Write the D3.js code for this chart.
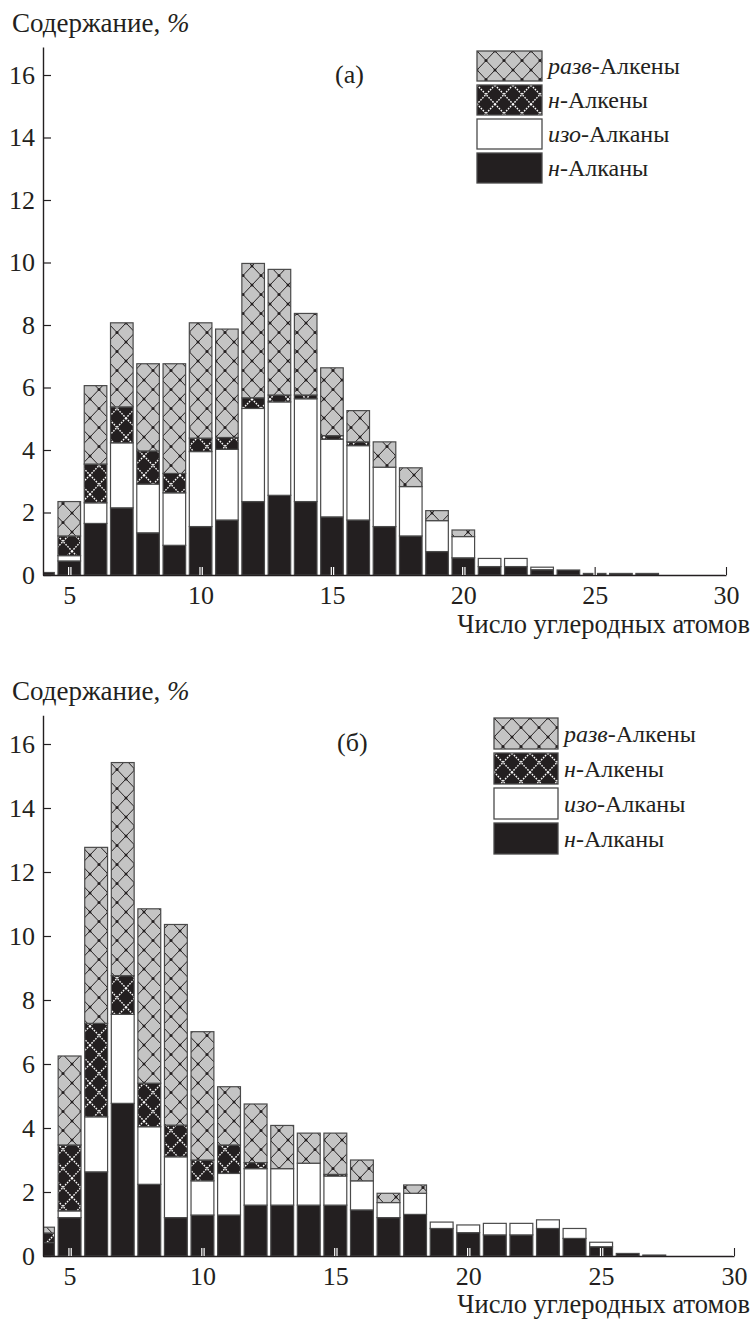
<!DOCTYPE html>
<html>
<head>
<meta charset="utf-8">
<script src="https://cdn.jsdelivr.net/npm/d3@7"></script>
<style>
  body { margin: 0; background: #fff; }
  svg { display: block; font-family: "Liberation Serif", "DejaVu Serif", serif; }
</style>
</head>
<body>
<svg id="chart" width="751" height="1319"></svg>
<script>
// carbon numbers (x categories)
const carbons = [4, 5, 6, 7, 8, 9, 10, 11, 12, 13, 14, 15, 16, 17, 18, 19, 20, 21, 22, 23, 24, 25, 26, 27];

// (a)
const nAlkanesA   = [0.08, 0.45, 1.65, 2.15, 1.35, 0.95, 1.55, 1.76, 2.35, 2.55, 2.35, 1.86, 1.76, 1.55, 1.25, 0.75, 0.55, 0.27, 0.27, 0.17, 0.16, 0.05, 0.05, 0.05];
const isoAlkanesA = [0, 0.17, 0.66, 2.08, 1.56, 1.68, 2.40, 2.26, 2.98, 2.99, 3.29, 2.48, 2.38, 1.90, 1.58, 0.99, 0.68, 0.26, 0.26, 0.08, 0, 0, 0, 0];
const nAlkenesA   = [0, 0.63, 1.24, 1.15, 1.06, 0.62, 0.43, 0.38, 0.34, 0.22, 0.12, 0.12, 0.12, 0, 0, 0, 0, 0, 0, 0, 0, 0, 0, 0];
const brAlkenesA  = [0, 1.10, 2.51, 2.69, 2.79, 3.51, 3.69, 3.47, 4.30, 4.02, 2.61, 2.17, 1.00, 0.81, 0.60, 0.32, 0.21, 0, 0, 0, 0, 0, 0, 0];

// (б)
const nAlkanesB   = [0.42, 1.20, 2.63, 4.77, 2.24, 1.20, 1.28, 1.28, 1.59, 1.59, 1.59, 1.59, 1.44, 1.20, 1.30, 0.86, 0.73, 0.66, 0.66, 0.86, 0.55, 0.29, 0.08, 0.03];
const isoAlkanesB = [0, 0.21, 1.72, 2.78, 1.80, 1.90, 1.07, 1.30, 1.14, 1.14, 1.31, 0.91, 0.91, 0.47, 0.66, 0.20, 0.24, 0.36, 0.36, 0.27, 0.31, 0.14, 0, 0];
const nAlkenesB   = [0.30, 2.06, 2.92, 1.21, 1.36, 0.99, 0.65, 0.89, 0.19, 0, 0, 0.05, 0, 0, 0, 0, 0, 0, 0, 0, 0, 0, 0, 0];
const brAlkenesB  = [0.18, 2.78, 5.50, 6.66, 5.45, 6.27, 4.01, 1.82, 1.83, 1.35, 0.94, 1.29, 0.65, 0.29, 0.26, 0, 0, 0, 0, 0, 0, 0, 0, 0];

const yTicks = [0, 2, 4, 6, 8, 10, 12, 14, 16];
const xTicks = [5, 10, 15, 20, 25, 30];
const yTitle = "Содержание, ";
const xTitle = "Число углеродных атомов";

const keys = ["nAlk", "iso", "nAlkene", "brAlkene"];
// legend order top to bottom, [italic prefix, rest]
const legendItems = [
    { key: "brAlkene", pre: "разв", post: "-Алкены" },
    { key: "nAlkene", pre: "н", post: "-Алкены" },
    { key: "iso", pre: "изо", post: "-Алканы" },
    { key: "nAlk", pre: "н", post: "-Алканы" }
];

const ink = "#231f20";
const svg = d3.select("#chart");
const defs = svg.append("defs");

// gray cross hatch
const pg = defs.append("pattern").attr("id", "hatchGray")
    .attr("patternUnits", "userSpaceOnUse").attr("width", 18).attr("height", 19);
pg.append("rect").attr("width", 18).attr("height", 19).attr("fill", "#c4c4c4");
pg.append("path").attr("d", "M0,0L18,19M18,0L0,19").attr("stroke", ink).attr("stroke-width", 1);
[[0, 0], [18, 0], [0, 19], [18, 19], [9, 9.5]].forEach(p => {
    pg.append("circle").attr("cx", p[0]).attr("cy", p[1]).attr("r", 1.5).attr("fill", ink);
});

// black cross hatch with white dotted lines
const pb = defs.append("pattern").attr("id", "hatchBlack")
    .attr("patternUnits", "userSpaceOnUse").attr("width", 18).attr("height", 19);
pb.append("rect").attr("width", 18).attr("height", 19).attr("fill", ink);
pb.append("path").attr("d", "M0,0L18,19M18,0L0,19").attr("stroke", "#fff")
    .attr("stroke-width", 1.4).attr("stroke-dasharray", "1.6,1.2");

const fills = {
    nAlk: ink,
    iso: "#fff",
    nAlkene: "url(#hatchBlack)",
    brAlkene: "url(#hatchGray)"
};

function drawPanel(o) {
    const table = carbons.map((c, i) => ({
        c: c, nAlk: o.nAlk[i], iso: o.iso[i], nAlkene: o.nAlkene[i], brAlkene: o.brAlkene[i]
    }));

    const x = d3.scaleLinear().domain([4, 30]).range([o.left, o.right]);
    const y = d3.scaleLinear().domain([0, 16]).range([o.y0, o.y16]);
    const yTop = y(16.9);
    const bw = (x(5) - x(4)) * 0.86;

    const g = svg.append("g");

    g.append("clipPath").attr("id", "clip" + o.id)
        .append("rect").attr("x", o.left).attr("y", yTop)
        .attr("width", o.right - o.left).attr("height", o.y0 - yTop);

    const series = d3.stack().keys(keys)(table);

    g.append("g").attr("clip-path", "url(#clip" + o.id + ")")
        .selectAll("g")
        .data(series)
        .join("g")
        .attr("fill", d => fills[d.key])
        .selectAll("rect")
        .data(d => d.filter(s => s[1] - s[0] > 0))
        .join("rect")
        .attr("x", d => x(d.data.c) - bw / 2)
        .attr("width", bw)
        .attr("y", d => y(d[1]))
        .attr("height", d => y(d[0]) - y(d[1]))
        .attr("stroke", "#4a4a4a")
        .attr("stroke-width", 1.2);

    // y axis
    const yAxis = d3.axisLeft(d3.scaleLinear().domain([0, 16.9]).range([o.y0, yTop]))
        .tickValues(yTicks).tickSize(-8).tickSizeOuter(0).tickPadding(8);
    const ya = g.append("g").attr("transform", "translate(" + o.left + ",0)").call(yAxis);
    ya.select(".domain").attr("stroke", ink).attr("stroke-width", 1.4);
    ya.selectAll(".tick line").attr("stroke", ink).attr("stroke-width", 1.2);
    ya.selectAll(".tick text").attr("font-size", 26).attr("fill", ink)
        .attr("font-family", "Liberation Serif");

    // x axis
    const xAxis = d3.axisBottom(x).tickValues(xTicks).tickSize(-8).tickSizeOuter(0).tickPadding(11);
    const xa = g.append("g").attr("transform", "translate(0," + o.y0 + ")").call(xAxis);
    xa.select(".domain").attr("stroke", ink).attr("stroke-width", 1.4);
    xa.selectAll(".tick").insert("line", "line").attr("y2", -8)
        .attr("stroke", "#fff").attr("stroke-width", 3.5);
    xa.selectAll(".tick line:last-of-type").attr("stroke", ink).attr("stroke-width", 1.1);
    xa.selectAll(".tick text").attr("font-size", 26).attr("fill", ink)
        .attr("font-family", "Liberation Serif");

    // titles
    const yt = g.append("text").attr("x", 12).attr("y", o.yTitleY)
        .attr("font-size", 27).attr("fill", ink).text(yTitle);
    yt.append("tspan").attr("font-style", "italic").text("%");

    g.append("text").attr("x", 750).attr("y", o.xTitleY).attr("text-anchor", "end")
        .attr("font-size", 26.5).attr("fill", ink).text(xTitle);

    g.append("text").attr("x", o.tagX).attr("y", o.tagY)
        .attr("font-size", 26).attr("fill", ink).text(o.tag);

    // legend
    const lg = g.append("g").attr("transform", "translate(" + o.legX + "," + o.legY + ")");
    const rows = lg.selectAll("g").data(legendItems).join("g")
        .attr("transform", (d, i) => "translate(0," + i * o.legStep + ")");
    rows.append("rect").attr("width", o.legW).attr("height", o.legH)
        .attr("fill", d => fills[d.key]).attr("stroke", "#4a4a4a").attr("stroke-width", 1.3);
    const lt = rows.append("text").attr("x", o.legW + 6).attr("y", o.legH / 2 + 8)
        .attr("font-size", 24).attr("fill", ink);
    lt.append("tspan").attr("font-style", "italic").text(d => d.pre);
    lt.append("tspan").text(d => d.post);
}

drawPanel({
    id: "a", tag: "(a)",
    nAlk: nAlkanesA, iso: isoAlkanesA, nAlkene: nAlkenesA, brAlkene: brAlkenesA,
    left: 43, right: 726, y0: 575, y16: 75,
    yTitleY: 32, xTitleY: 633, tagX: 335, tagY: 83,
    legX: 477, legY: 51, legStep: 34, legW: 65, legH: 30
});

drawPanel({
    id: "b", tag: "(б)",
    nAlk: nAlkanesB, iso: isoAlkanesB, nAlkene: nAlkenesB, brAlkene: brAlkenesB,
    left: 43, right: 734, y0: 1256, y16: 744,
    yTitleY: 700, xTitleY: 1313, tagX: 337, tagY: 751,
    legX: 494, legY: 718, legStep: 35, legW: 64, legH: 31
});
</script>
</body>
</html>
